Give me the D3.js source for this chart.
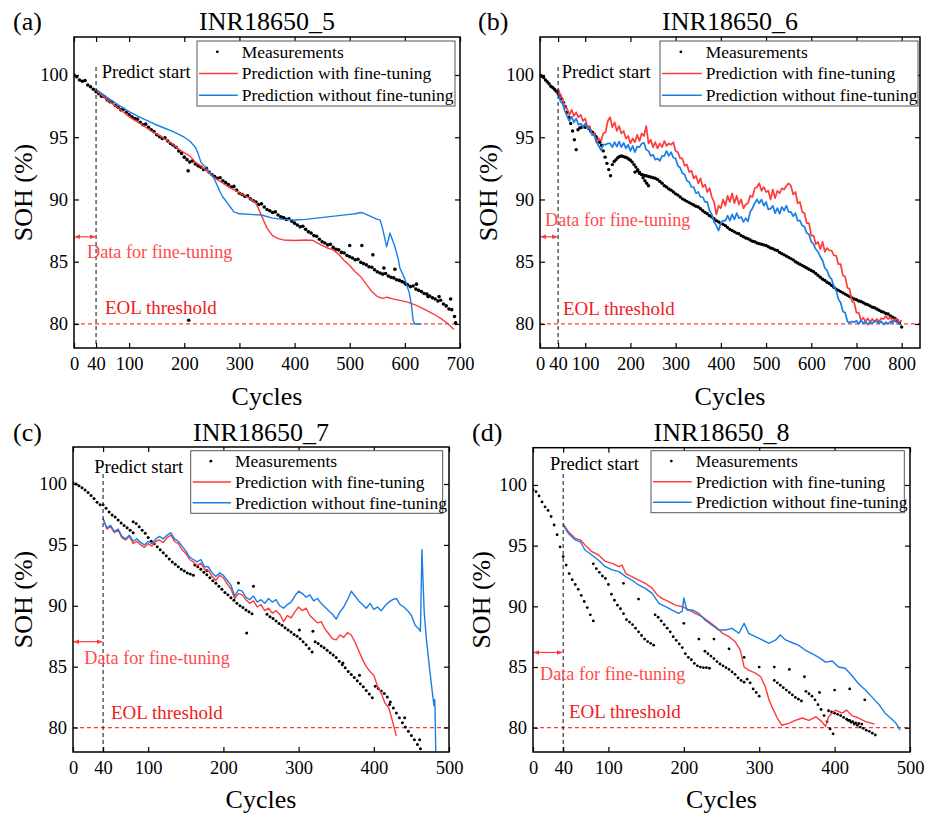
<!DOCTYPE html>
<html>
<head>
<meta charset="utf-8">
<script src="https://cdn.jsdelivr.net/npm/d3@7"></script>
<style>
  body { margin: 0; background: #fff; }
  svg, svg text { font-family: 'Liberation Serif', 'DejaVu Serif', serif; }
</style>
</head>
<body>
<div id="chart"></div>
<script>
// ---------- data (cycles / SOH %) ----------
// (a) INR18650_5
var measA = [100.0,99.85,99.6,99.5,99.55,99.2,99.05,98.85,98.65,
  98.5,98.3,98.25,98.0,97.85,97.8,97.55,97.4,97.2,97.25,97.0,96.8,
  96.65,96.5,96.45,96.2,96.0,96.05,95.8,95.6,95.45,95.2,
  95.05,94.9,94.95,94.7,94.5,94.35,94.2,93.9,93.7,93.4,
  93.2,93.0,93.1,92.85,92.7,92.6,92.4,92.5,92.2,92.0,
  91.85,91.7,91.75,91.5,91.35,91.2,91.0,91.05,90.75,90.5,
  90.4,90.25,90.3,90.05,89.9,89.8,89.6,89.65,89.4,89.2,
  89.1,88.95,89.0,88.75,88.6,88.55,88.4,88.45,88.25,88.1,
  87.95,87.8,87.85,87.6,87.4,87.3,87.1,87.05,86.8,86.6,
  86.5,86.35,86.4,86.15,86.0,85.95,85.75,85.7,85.5,85.4,
  85.3,85.15,85.2,84.95,84.85,84.75,84.6,84.55,84.35,84.2,
  84.1,84.0,84.05,83.85,83.75,83.7,83.55,83.5,83.4,83.3,
  83.15,83.0,83.05,82.8,82.7,82.6,82.45,82.4,82.25,82.1,
  82.0,81.85,81.9,81.6,81.45,81.2,81.15,80.6];
var outACyc = [207,208,500,522,542,562,582,602,621,642,662,683,692];
var outASoh = [92.3,80.3,86.3,86.3,85.55,84.5,84.4,83.2,83.2,82.2,82.2,82.0,80.1];
var redACyc = [40,50,60,70,80,90,100,110,120,130,140,150,160,170,180,190,200,210,220,230,
  240,250,260,270,280,290,300,310,320,330,340,350,360,370,380,400,420,434,446,
  460,470,480,490,500,510,520,530,540,550,560,567,580,591,605,621,635,652,665,676,689];
var redASoh = [98.75,98.4,98.0,97.7,97.35,97.0,96.65,96.35,96.1,95.8,95.5,95.25,95.0,94.7,94.4,94.05,93.75,93.5,93.0,92.7,
  92.3,91.9,91.6,91.3,91.0,90.8,90.5,90.3,90.05,89.7,88.7,87.7,87.1,86.85,86.75,86.7,86.75,86.7,86.4,
  86.1,85.95,85.6,85.1,84.7,84.2,83.8,83.2,82.6,82.2,82.05,82.15,82.0,81.9,81.75,81.5,81.2,80.8,80.45,80.1,79.55];
var blueACyc = [40,60,80,100,120,140,150,160,180,200,210,220,225,230,240,250,255,260,265,270,
  280,290,300,320,340,360,380,400,420,440,460,480,500,510,520,525,530,540,550,555,
  560,567,573,582,588,591,600,608,612,615,618,630];
var blueASoh = [98.85,98.2,97.6,97.05,96.6,96.2,95.98,95.8,95.45,95.0,94.7,94.2,93.7,93.0,92.5,92.0,91.6,91.1,90.6,90.2,
  89.6,89.0,88.85,88.8,88.75,88.5,88.4,88.35,88.4,88.5,88.6,88.7,88.8,88.85,88.95,88.9,88.8,88.6,88.4,88.36,
  87.6,86.2,87.3,86.2,85.2,84.5,83.6,82.5,81.5,80.3,80.0,80.0];

// (b) INR18650_6
var measBStarts = [0, 84, 160, 210];
var measBSteps = [4, 4, 4, 5];
var measB1 = [100.0,99.9,99.8,99.6,99.45,99.3,99.1,99.0,98.85,98.7,98.5,98.35,98.1,97.8,97.45,97.0,96.6,96.1,95.5,94.8,94.0];
var measB2 = [95.6,95.75,95.8,95.85,95.8,95.85,95.7,95.5,95.4,95.25,95.05,94.85,94.6,94.35,93.9,93.4,92.9,92.4,91.9];
var measB3 = [92.8,93.05,93.2,93.35,93.45,93.5,93.45,93.4,93.35,93.25,93.15,93.0,92.8,92.6,92.4,92.2,92.0,91.75,91.5,91.3,91.1];
var measB4 = [92.2,92.3,92.1,92.0,91.95,91.9,91.85,91.8,91.75,91.7,
  91.6,91.45,91.3,91.1,91.0,90.85,90.75,90.6,90.45,90.35,
  90.2,90.05,89.95,89.85,89.75,89.65,89.55,89.45,89.4,89.25,
  89.1,88.95,88.85,88.7,88.6,88.45,88.3,88.2,88.1,88.0,
  87.9,87.75,87.6,87.5,87.4,87.3,87.25,87.1,87.0,86.9,
  86.85,86.75,86.65,86.6,86.5,86.45,86.4,86.35,86.3,86.2,
  86.1,86.05,85.95,85.9,85.75,85.65,85.55,85.45,85.35,85.25,
  85.15,85.0,84.9,84.8,84.7,84.6,84.5,84.4,84.3,84.2,
  84.05,83.9,83.75,83.6,83.5,83.35,83.25,83.1,82.95,82.8,
  82.7,82.6,82.5,82.4,82.3,82.2,82.1,82.0,81.95,81.85,
  81.8,81.7,81.6,81.55,81.45,81.35,81.3,81.2,81.1,81.0,
  80.95,80.85,80.8,80.65,80.55,80.45,80.3,80.1,79.75];
var redB = [98.9,98.4,98.1,97.4,97.3,96.8,97.2,96.7,97.0,96.6,
  96.8,96.3,96.5,95.8,95.9,95.2,95.3,94.6,94.9,94.7,
  95.3,95.4,96.3,96.6,95.8,96.2,95.5,95.9,95.3,95.5,
  94.9,95.1,94.5,94.9,94.6,95.2,94.7,95.3,95.1,95.9,
  94.5,94.8,94.2,94.6,94.1,94.5,94.2,94.7,94.3,94.5,
  94.4,94.6,93.9,93.8,93.3,93.3,92.7,92.8,92.2,92.3,
  91.7,91.9,91.3,91.7,91.0,91.2,90.6,90.9,90.2,89.8,
  88.8,89.5,89.3,90.0,89.5,90.3,89.8,90.5,89.7,90.3,
  89.6,90.0,89.3,89.6,89.7,90.3,90.2,90.9,91.0,91.3,
  90.7,91.0,90.6,90.7,90.0,90.8,90.1,90.7,90.5,90.9,
  90.8,91.1,91.3,91.1,90.4,90.6,89.7,89.8,89.0,88.9,
  88.1,88.1,87.1,87.1,86.4,86.6,86.0,86.6,85.8,86.1,
  85.9,85.9,85.5,85.5,84.8,84.8,83.9,83.8,82.9,82.8,
  81.8,81.7,80.9,80.9,80.3,80.5,80.2,80.45,80.15,80.4,
  80.15,80.4,80.2,80.45,80.4,80.65,80.4,80.55,80.2,80.4,
  80.35,80.15,80.3];
var blueB = [98.5,97.9,97.7,97.1,96.7,96.3,96.65,96.2,96.5,96.0,
  96.1,95.8,96.1,95.7,95.7,95.2,95.15,94.6,94.3,93.95,
  94.4,94.4,94.5,94.5,94.2,94.6,94.25,94.65,94.2,94.55,
  94.1,94.4,93.9,94.3,93.8,94.25,94.2,94.5,94.55,94.0,
  93.9,93.5,93.6,93.2,93.3,93.1,93.5,93.5,93.9,93.5,
  93.8,93.35,93.3,92.7,92.55,92.1,92.0,91.5,91.4,91.0,
  91.0,90.5,90.6,90.2,90.2,89.8,89.8,89.1,88.8,88.2,
  87.9,87.5,88.1,88.3,88.3,88.7,88.3,88.8,88.4,88.9,
  88.5,88.6,88.2,88.5,88.25,89.0,89.3,89.7,90.0,89.7,
  90.0,89.5,89.8,89.2,89.25,89.5,88.9,89.3,88.85,89.4,
  89.1,89.5,89.0,89.0,88.65,88.9,88.3,88.3,87.9,87.8,
  87.3,87.2,86.6,86.4,86.0,85.8,85.4,85.1,84.5,84.3,
  83.8,83.6,83.0,82.7,82.0,81.7,81.0,80.9,80.2,80.1,
  80.2,80.15,80.25,80.0,80.3,80.05,80.2,79.95,80.15,80.05,
  80.25,80.2,80.05,80.2,79.95,80.15,80.0,80.2,80.1,80.3,
  80.05,80.0,79.9];

// (c) INR18650_7
var measCStarts = [0, 80, 162, 258, 322, 402];
var measC1 = [100.1,100.0,99.85,99.7,99.5,99.3,99.05,98.8,98.5,98.3,98.3,98.0,97.7,97.45,97.3,97.05,96.8,96.6,96.4,96.2,96.0];
var measC2 = [96.9,96.75,96.5,96.2,95.95,95.6,95.3,95.1,94.85,94.6,94.35,94.1,93.85,93.6,93.4,93.2,93.0,92.85,92.7,92.6,92.5];
var measC3 = [93.35,93.2,93.0,92.75,92.55,92.3,92.05,91.85,91.6,91.35,91.1,90.9,90.65,90.45,90.2,90.0,89.85,89.65,89.5,89.35];
var measC4 = [89.3,89.1,88.95,88.75,88.55,88.4,88.2,88.0,87.85,87.65,87.5,87.3,87.05,86.8,86.5,86.2];
var measC5 = [87.05,86.9,86.7,86.55,86.35,86.15,85.95,85.75,85.45,85.15,84.9,84.6,84.35,84.1,83.85,83.6,83.35,83.05,82.75,82.45];
var measC6 = [83.4,83.2,83.0,82.8,82.5,82.1,81.6,81.2,80.8,80.4,80.05,79.7,79.35,79.0,78.6,78.25];
var outCCyc = [178,220,231,240,301,319,359,381,421,441,461];
var outCSoh = [92.9,91.86,87.76,91.6,88.0,87.9,85.3,84.3,81.9,80.8,79.0];
var redC = [97.2,96.3,96.5,96.0,96.2,95.6,95.4,95.7,95.1,95.3,
  95.0,94.8,95.1,94.9,95.3,95.4,95.2,95.6,95.8,95.3,
  95.1,94.6,94.3,93.8,93.6,93.3,93.5,93.0,92.9,92.4,
  92.1,92.5,92.3,91.8,91.4,90.6,91.0,90.9,90.5,90.2,
  90.4,89.9,90.1,89.6,89.8,89.4,89.6,89.3,88.7,89.2,
  89.0,89.5,89.9,89.6,89.8,89.2,88.9,88.6,88.7,88.1,
  87.7,87.3,87.2,87.6,87.4,87.8,87.6,87.0,86.3,85.6,
  85.0,84.6,84.3,83.4,82.8,82.0,81.6,80.5,79.3];
var blueC = [97.1,96.4,96.6,96.1,96.3,95.7,95.5,95.8,95.3,95.5,
  95.2,95.0,95.3,95.1,95.5,95.7,95.5,95.8,96.0,95.5,
  95.3,94.9,94.5,94.0,93.8,93.6,93.8,93.2,93.2,92.7,
  92.4,92.7,92.5,92.1,91.7,90.8,91.3,91.2,90.7,90.5,
  90.8,90.3,90.5,90.2,90.6,90.3,90.5,90.0,89.8,90.1,
  90.3,90.8,91.2,91.0,90.7,90.9,90.4,90.6,90.2,89.9,
  89.6,89.3,88.9,89.5,89.9,90.5,91.2,90.8,90.4,90.1,
  89.8,90.2,89.7,89.9,89.6,90.0,90.3,90.5,90.6,90.1,
  89.9,89.6,89.2,88.4,88.1];
var blueCTailCyc = [462,464,465.5,467,470,475,479,480,481,481.5,482.5];
var blueCTailSoh = [87.9,94.6,92.0,89.5,87.2,84.4,82.3,81.8,82.3,81.4,77.5];

// (d) INR18650_8
var measDStarts = [0, 80, 162, 228, 320, 362, 392, 418];
var measD1 = [99.6,99.45,99.1,98.6,98.2,97.9,97.4,96.7,95.9,94.9,94.1,93.4,92.7,92.2,91.8,91.4,90.9,90.4,89.9,89.3,88.8];
var measD2 = [93.5,93.1,92.8,92.5,92.3,91.8,91.0,90.5,90.1,89.8,89.4,88.9,88.7,88.5,88.2,87.9,87.6,87.3,87.1,86.95,86.8];
var measD3 = [89.3,89.1,88.8,88.5,88.2,87.9,87.5,87.2,86.9,86.6,86.1,85.8,85.6,85.3,85.1,85.0,84.95,84.95,84.9];
var measD4 = [86.3,86.1,85.9,85.7,85.45,85.25,85.1,84.95,84.8,84.6,84.4,84.1,83.9,83.75,84.0,83.7,83.2,82.9,82.6];
var measD5 = [83.9,83.7,83.5,83.3,83.1,82.9,82.7,82.5,82.35,82.2];
var measD6 = [83.0,82.8,82.6,82.3,81.9,81.5,81.0,80.5,79.9,79.5];
var measD7 = [81.4,81.3,81.2,81.1,81.0,80.85,80.7,80.6,80.5,80.4,80.35,80.3];
var measD8 = [80.6,80.45,80.3,80.2,80.05,79.95,79.8,79.7,79.55,79.4];
var outDCyc = [120,140,200,220,240,260,280,300,320,340,360,380,400,420,440];
var outDSoh = [91.9,90.6,88.6,87.3,87.3,86.5,85.8,85.0,85.0,84.8,84.2,82.9,83.1,83.2,82.3];
var redDCyc = [40,47,56,63,69,78,87,96,105,114,118,123,131,140,149,158,165,171,180,189,
  198,207,215,224,233,242,251,260,268,275,280,286,295,302,308,313,317,324,330,339,
  348,357,366,375,383,388,392,401,410,416,423,432,441,450,453];
var redDSoh = [96.8,96.15,95.6,95.47,95.05,94.5,94.23,93.7,93.54,93.27,93.4,92.7,92.45,92.17,91.9,91.5,90.93,90.66,90.38,90.1,
  89.97,89.7,89.42,89.15,88.74,88.33,87.8,87.5,87.1,86.4,85.0,84.75,84.5,84.2,83.4,82.3,81.7,80.8,80.2,80.36,
  80.6,80.8,80.6,80.9,80.5,80.1,80.9,81.45,81.2,81.45,81.0,80.8,80.5,80.36,80.3];
var blueDCyc = [40,47,56,63,69,78,87,96,105,114,123,131,140,149,158,167,176,184,193,198,
  200,204,211,220,228,237,246,255,264,273,280,286,295,304,313,322,328,335,344,352,
  361,370,379,388,397,405,414,423,432,441,450,459,467,476,481,485,487];
var blueDSoh = [96.7,96.0,95.47,95.3,94.64,94.23,93.8,93.27,93.0,92.86,92.45,92.17,91.76,91.48,91.07,90.25,89.97,89.7,89.42,89.6,
  90.7,89.7,89.7,89.42,88.87,88.46,88.05,88.05,88.19,87.78,88.6,87.78,87.5,87.23,86.95,87.23,87.64,87.23,87.0,86.8,
  86.4,86.1,85.8,85.4,85.5,85.0,84.9,84.3,83.6,83.1,82.5,81.9,81.2,80.7,80.4,80.0,79.8];

var yTicks = [80, 85, 90, 95, 100];

// ---------- helpers ----------
function steps(start, step, vals) { return vals.map(function(v, i) { return [start + i * step, v]; }); }
function pairs(cs, vs) { return cs.map(function(c, i) { return [c, vs[i]]; }); }

var RED = "#ff3a3a", BLUE = "#1a7ee6";
var FONT = "'Liberation Serif', 'DejaVu Serif', serif";

var svg = d3.select("#chart").append("svg").attr("width", 925).attr("height", 820)
    .attr("font-family", FONT);
var defs = svg.append("defs");
defs.append("marker").attr("id", "arr").attr("viewBox", "0 0 10 10")
    .attr("refX", 9).attr("refY", 5).attr("markerWidth", 5).attr("markerHeight", 5)
    .attr("orient", "auto-start-reverse")
  .append("path").attr("d", "M0,1L10,5L0,9z").attr("fill", RED);

var panels = [
  { id: "a", tag: "(a)", title: "INR18650_5", left: 74, right: 460, top: 37, bottom: 348,
    xmax: 700, ymin: 78.07, ymax: 103.05, xticks: [0, 40, 100, 200, 300, 400, 500, 600, 700],
    meas: [steps(0, 5, measA)], out: pairs(outACyc, outASoh), r: 1.8, lw: 1.4,
    red: pairs(redACyc, redASoh), blue: pairs(blueACyc, blueASoh),
    arrowSoh: 87, tagX: 13, titleY: 30, cyclesY: 405, sohX: 31.5,
    predict: [101.7, 78], dashTop: 67, dataTxt: [87, 258], eolTxt: [105, 314],
    legend: [197, 41, 258, 65], legTextX: 241.7 },
  { id: "b", tag: "(b)", title: "INR18650_6", left: 540, right: 920, top: 37, bottom: 348,
    xmax: 840.5, ymin: 78.07, ymax: 103.05, xticks: [0, 40, 100, 200, 300, 400, 500, 600, 700, 800],
    meas: [steps(measBStarts[0], measBSteps[0], measB1), steps(measBStarts[1], measBSteps[1], measB2),
           steps(measBStarts[2], measBSteps[2], measB3), steps(measBStarts[3], measBSteps[3], measB4)],
    out: [], r: 1.7, lw: 1.7, red: steps(40, 5, redB), blue: steps(40, 5, blueB),
    arrowSoh: 87, tagX: 478, titleY: 30, cyclesY: 405, sohX: 496.5,
    predict: [561.7, 78], dashTop: 67, dataTxt: [545, 226], eolTxt: [563, 315],
    legend: [660, 41, 258, 65], legTextX: 705.7 },
  { id: "c", tag: "(c)", title: "INR18650_7", left: 73, right: 449, top: 447, bottom: 752,
    xmax: 500, ymin: 77.99, ymax: 103.04, xticks: [0, 40, 100, 200, 300, 400, 500],
    meas: [measC1, measC2, measC3, measC4, measC5, measC6].map(function(v, i) { return steps(measCStarts[i], 4, v); }),
    out: pairs(outCCyc, outCSoh), r: 1.5, lw: 1.4,
    red: steps(40, 5, redC), blue: steps(40, 5, blueC).concat(pairs(blueCTailCyc, blueCTailSoh)),
    arrowSoh: 87.05, tagX: 13, titleY: 441, cyclesY: 808, sohX: 31.5,
    predict: [94.3, 472.7], dashTop: 474, dataTxt: [84.3, 664], eolTxt: [111, 719.3],
    legend: [190.7, 450.7, 252, 62.6], legTextX: 235 },
  { id: "d", tag: "(d)", title: "INR18650_8", left: 533, right: 910, top: 447.7, bottom: 752,
    xmax: 500, ymin: 78.0, ymax: 103.07, xticks: [0, 40, 100, 200, 300, 400, 500],
    meas: [measD1, measD2, measD3, measD4, measD5, measD6, measD7, measD8].map(function(v, i) { return steps(measDStarts[i], 4, v); }),
    out: pairs(outDCyc, outDSoh), r: 1.4, lw: 1.4,
    red: pairs(redDCyc, redDSoh), blue: pairs(blueDCyc, blueDSoh),
    arrowSoh: 86.2, tagX: 472, titleY: 441, cyclesY: 808, sohX: 490,
    predict: [550, 470], dashTop: 474, dataTxt: [540, 680], eolTxt: [569, 718.3],
    legend: [651, 450.7, 253.3, 62], legTextX: 695.7 }
];

function drawPanel(p) {
  var x = d3.scaleLinear().domain([0, p.xmax]).range([p.left, p.right]);
  var y = d3.scaleLinear().domain([p.ymin, p.ymax]).range([p.bottom, p.top]);
  var g = svg.append("g");

  defs.append("clipPath").attr("id", "clip" + p.id).append("rect")
      .attr("x", p.left).attr("y", p.top).attr("width", p.right - p.left).attr("height", p.bottom - p.top);
  var plot = g.append("g").attr("clip-path", "url(#clip" + p.id + ")");

  // EOL threshold
  plot.append("line").attr("x1", p.left).attr("x2", p.right).attr("y1", y(80)).attr("y2", y(80))
      .attr("stroke", RED).attr("stroke-width", 1.2).attr("stroke-dasharray", "4,3");

  // predict start
  g.append("line").attr("x1", x(40)).attr("x2", x(40)).attr("y1", p.dashTop).attr("y2", p.bottom)
      .attr("stroke", "#222").attr("stroke-width", 1.1).attr("stroke-dasharray", "4,3");

  // measurements
  var pts = [].concat.apply([], p.meas).concat(p.out);
  plot.selectAll(".m").data(pts).enter().append("circle")
      .attr("cx", function(d) { return x(d[0]); })
      .attr("cy", function(d) { return y(d[1]); })
      .attr("r", p.r).attr("fill", "#000");

  var line = d3.line().x(function(d) { return x(d[0]); }).y(function(d) { return y(d[1]); });
  plot.append("path").datum(p.red).attr("d", line).attr("fill", "none")
      .attr("stroke", RED).attr("stroke-width", p.lw).attr("stroke-linejoin", "round");
  plot.append("path").datum(p.blue).attr("d", line).attr("fill", "none")
      .attr("stroke", BLUE).attr("stroke-width", p.lw).attr("stroke-linejoin", "round");

  // fine-tuning arrow
  g.append("line").attr("x1", x(0) + 1).attr("x2", x(40) - 1)
      .attr("y1", y(p.arrowSoh)).attr("y2", y(p.arrowSoh))
      .attr("stroke", RED).attr("stroke-width", 1.2)
      .attr("marker-start", "url(#arr)").attr("marker-end", "url(#arr)");

  // axes, ticks inward on all sides
  function style(sel) {
    sel.select(".domain").remove();
    sel.attr("font-family", FONT).attr("font-size", 18.5);
    sel.selectAll("line").attr("stroke", "#000").attr("stroke-width", 1.2);
    sel.selectAll("text").attr("fill", "#000");
  }
  g.append("g").attr("transform", "translate(0," + p.bottom + ")")
      .call(d3.axisBottom(x).tickValues(p.xticks).tickSizeInner(-5).tickSizeOuter(0).tickPadding(9)).call(style);
  g.append("g").attr("transform", "translate(0," + p.top + ")")
      .call(d3.axisTop(x).tickValues(p.xticks).tickSizeInner(-5).tickSizeOuter(0).tickFormat("")).call(style);
  g.append("g").attr("transform", "translate(" + p.left + ",0)")
      .call(d3.axisLeft(y).tickValues(yTicks).tickSizeInner(-5).tickSizeOuter(0).tickPadding(6)).call(style);
  g.append("g").attr("transform", "translate(" + p.right + ",0)")
      .call(d3.axisRight(y).tickValues(yTicks).tickSizeInner(-5).tickSizeOuter(0).tickFormat("")).call(style);

  g.append("rect").attr("x", p.left).attr("y", p.top)
      .attr("width", p.right - p.left).attr("height", p.bottom - p.top)
      .attr("fill", "none").attr("stroke", "#000").attr("stroke-width", 1.5);

  // titles and labels
  var cx = (p.left + p.right) / 2;
  g.append("text").attr("x", p.tagX).attr("y", p.titleY).attr("font-size", 26).text(p.tag);
  g.append("text").attr("x", cx).attr("y", p.titleY).attr("font-size", 26)
      .attr("text-anchor", "middle").text(p.title);
  g.append("text").attr("x", cx).attr("y", p.cyclesY).attr("font-size", 26)
      .attr("text-anchor", "middle").text("Cycles");
  g.append("text").attr("transform", "translate(" + p.sohX + "," + ((p.top + p.bottom) / 2) + ") rotate(-90)")
      .attr("font-size", 26).attr("text-anchor", "middle").text("SOH (%)");

  g.append("text").attr("x", p.predict[0]).attr("y", p.predict[1]).attr("font-size", 18.5).text("Predict start");
  g.append("text").attr("x", p.dataTxt[0]).attr("y", p.dataTxt[1]).attr("font-size", 18.2)
      .attr("fill", "#ff4b4b").text("Data for fine-tuning");
  g.append("text").attr("x", p.eolTxt[0]).attr("y", p.eolTxt[1]).attr("font-size", 19)
      .attr("fill", "#ee2020").text("EOL threshold");

  // legend
  var L = p.legend;
  var leg = g.append("g");
  leg.append("rect").attr("x", L[0]).attr("y", L[1]).attr("width", L[2]).attr("height", L[3])
      .attr("fill", "#fff").attr("stroke", "#555").attr("stroke-width", 1);
  var rowH = L[3] / 3;
  var items = [
    { label: "Measurements", kind: "dot" },
    { label: "Prediction with fine-tuning", kind: RED },
    { label: "Prediction without fine-tuning", kind: BLUE }
  ];
  items.forEach(function(it, i) {
    var ry = L[1] + rowH * (i + 0.5);
    if (it.kind === "dot") {
      leg.append("circle").attr("cx", (L[0] + p.legTextX) / 2 - 2).attr("cy", ry).attr("r", 1.4).attr("fill", "#000");
    } else {
      leg.append("line").attr("x1", L[0] + 2).attr("x2", p.legTextX - 4)
          .attr("y1", ry).attr("y2", ry).attr("stroke", it.kind).attr("stroke-width", 1.5);
    }
    leg.append("text").attr("x", p.legTextX).attr("y", ry + 5.8).attr("font-size", 17.5).text(it.label);
  });
}

panels.forEach(drawPanel);
</script>
</body>
</html>
